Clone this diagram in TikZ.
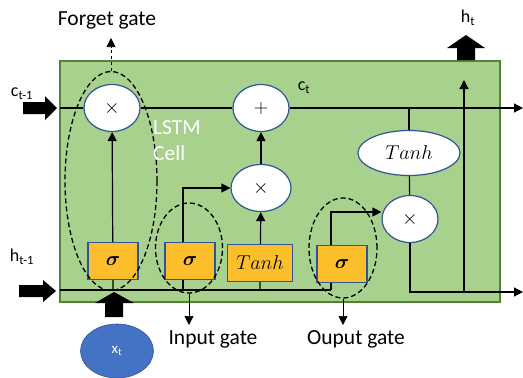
\RequirePackage{fix-cm}
\documentclass[tikz,border=0pt]{standalone}
\usepackage{amsmath,amssymb}
\usepackage{fontspec}
\setmainfont{Carlito}
\usepackage{xcolor}
\usetikzlibrary{arrows.meta,positioning,backgrounds,calc,shapes.geometric}
\definecolor{cellgreen}{HTML}{A9D18E}
\definecolor{celledge}{HTML}{548235}
\definecolor{gateorange}{HTML}{FCBF2B}
\definecolor{opblue}{HTML}{2F5597}
\definecolor{inblue}{HTML}{4472C4}
\newcommand{\lsub}[1]{\textsubscript{#1}}

\begin{document}
\begin{tikzpicture}[x=1pt,y=-1pt,
    every node/.style={font=\fontsize{21.5}{26}\selectfont},
    opnode/.style={ellipse,draw=opblue,line width=1.2pt,fill=white,
                   inner sep=0pt,minimum width=56,minimum height=47,
                   font=\fontsize{20}{24}\selectfont},
    gatebox/.style={draw=opblue,line width=1.2pt,fill=gateorange,
                    inner sep=0pt,minimum width=50,minimum height=37,
                    font=\fontsize{20}{24}\selectfont},
    gatering/.style={ellipse,draw,dash pattern=on 5pt off 3pt,line width=1.3pt},
    statelbl/.style={inner sep=1pt,font=\fontsize{18}{22}\selectfont},
    wire/.style={line width=1.2pt},
    flow/.style={wire,-{Triangle[length=9pt,width=9pt]}},
    gatearrow/.style={line width=0.7pt,-{Triangle[length=9pt,width=9pt]}}]
  \useasboundingbox (0,0) rectangle (523,378);

  % operations on the cell state
  \node[opnode] (fmul) at (112,108) {$\times$};
  \node[opnode] (add) at (261,108) {$+$};
  \node[opnode,minimum width=60] (imul) at (261,188) {$\times$};
  \node[opnode,minimum width=102,minimum height=45] (tanhc) at (409,153) {$Tanh$};
  \node[opnode] (omul) at (410,219) {$\times$};

  % gates
  \node[gatebox] (ft) at (113,261) {$\boldsymbol{\sigma}$};
  \node[gatebox] (it) at (190,261) {$\boldsymbol{\sigma}$};
  \node[gatebox,minimum width=65] (gt) at (260,263) {$Tanh$};
  \node[gatebox] (ot) at (342,264) {$\boldsymbol{\sigma}$};

  % dashed groups
  \node[gatering,minimum width=92,minimum height=219] (fgate) at (111,181) {};
  \node[gatering,minimum width=67,minimum height=90] (igate) at (189,248) {};
  \node[gatering,minimum width=68,minimum height=100] (ogate) at (343,248) {};

  \node (fgatelbl) at (107,20) {Forget gate};
  \node (igatelbl) at (213,339) {Input gate};
  \node (ogatelbl) at (356,339) {Ouput gate};
  \coordinate (ftip) at (111,38);
  \coordinate (itip) at (189,325);
  \coordinate (otip) at (343,325);
  \draw[gatearrow,dashed] (fgate) -- (ftip);
  \draw[gatearrow] (igate) -- (itip);
  \draw[gatearrow] (ogate) -- (otip);

  % inputs and outputs
  \node[statelbl] (cinlbl) at (22,94) {c\lsub{t-1}};
  \node[statelbl] (hinlbl) at (22,257) {h\lsub{t-1}};
  \node[statelbl] (ctlbl) at (304,88) {c\lsub{t}};
  \node[statelbl] (htlbl) at (468,18) {h\lsub{t}};
  \node[text=white,align=left,anchor=west,inner sep=0pt] (celllbl) at (153,141) {LSTM\\Cell};
  \node[ellipse,fill=inblue,draw=opblue,line width=0.6pt,minimum width=73,minimum height=54,
        text=white,font=\fontsize{15}{18}\selectfont] (xt) at (117,351) {x\lsub{t}};

  \fill (23,102) -- (45,102) -- (45,96) -- (57,108) -- (45,120) -- (45,114) -- (23,114) -- cycle;
  \fill (19,285) -- (43,285) -- (43,280) -- (56,291) -- (43,302) -- (43,297) -- (19,297) -- cycle;
  \fill (105,317) -- (105,303) -- (95,303) -- (114,292) -- (134,303) -- (123,303) -- (123,317) -- cycle;
  \fill (457,60) -- (457,48) -- (447,48) -- (466,35) -- (485,48) -- (475,48) -- (475,60) -- cycle;

  \coordinate (cin) at (60,108);
  \coordinate (cout) at (523,108);
  \coordinate (hin) at (60,290);
  \coordinate (busend) at (331,290);
  \coordinate (hout) at (523,292);
  \coordinate (htop) at (464,80);

  \begin{scope}[on background layer]
    \draw[fill=cellgreen,draw=celledge,line width=1.5pt] (60,61) rectangle (500,302);
    \draw[wire] (cin) -- (fmul);
    \draw[wire] (fmul) -- (add);
    \draw[flow] (add) -- (cout);
    \draw[wire] (hin) -- (busend);
    \draw[flow] (ft |- hin) -- (fmul);
    \draw[flow] ([xshift=-7pt]it.south |- hin) |- (imul);
    \draw[flow] (gt |- hin) -- (imul);
    \draw[flow] (imul) -- (add);
    \draw[flow] (busend) |- ([yshift=7pt]omul.west);
    \draw[wire] (tanhc |- cout) -- (tanhc);
    \draw[wire] (tanhc) -- (omul);
    \draw[flow] (omul) |- (hout);
    \draw[flow] (htop |- hout) -- (htop);
  \end{scope}
\end{tikzpicture}
\end{document}
